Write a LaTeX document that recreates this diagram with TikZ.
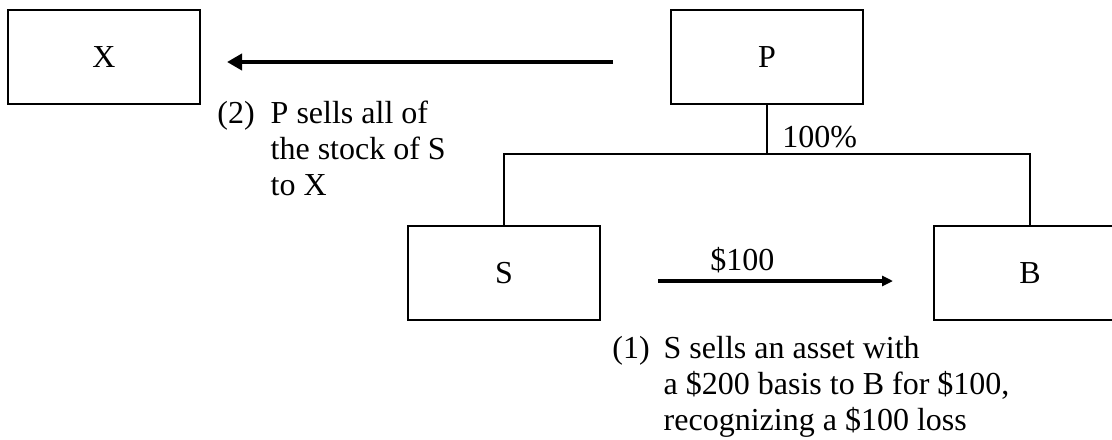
\documentclass[tikz,border=0pt]{standalone}
\usepackage{fontspec}
\setmainfont{Liberation Serif}
\usetikzlibrary{arrows.meta}

\begin{document}
\begin{tikzpicture}[
		x=0.5pt, y=-0.5pt,
		font=\fontsize{16}{18.2}\selectfont,
		box/.style={draw,line width=0.7pt,minimum width=96pt,minimum height=47pt,inner sep=0pt},
		note/.style={inner sep=0pt,anchor=base west},
		sellarrow/.style={line width=2pt,-{Triangle[length=7.5pt,width=8pt]}},
		cash/.style={line width=1.7pt,-{Triangle[length=5.5pt,width=5pt]}},
		level distance=108pt,
		level 1/.style={sibling distance=263pt},
		every child node/.style={box},
		edge from parent/.style={draw,line width=1pt},
		edge from parent path={(\tikzparentnode.south) -- ++(0,49) -| (\tikzchildnode.north)}
		]
		\path[use as bounding box,clip] (0,0) rectangle (1112,439);
		
		\node[box] (X) at (104,57) {X};
		\node[box] (P) at (767,57) {P}
		child {node (S) {S}}
		child {node (B) {B}}
		;
		
		\node[note] (own) at (782,147) {100\%};
		
		% sale of the stock
		\coordinate (sellstart) at (613,62);
		\coordinate (sellend) at (227,62);
		\draw[sellarrow] (sellstart) -- (sellend);
		\node[note] (step2) at (217,123) {\begin{tabular}[t]{@{}l@{\hspace{8pt}}l@{}}
				(2) & P sells all of\\
				& the stock of S\\
				& to X
		\end{tabular}};
		
		% sale of the asset
		\coordinate (paystart) at (658,281);
		\coordinate (payend) at (893,281);
		\draw[cash] (paystart) -- (payend);
		\node[note] (price) at (710,270) {\$100};
		\node[note] (step1) at (612,358) {\begin{tabular}[t]{@{}l@{\hspace{7pt}}l@{}}
				(1) & S sells an asset with\\
				& a \$200 basis to B for \$100,\\
				& recognizing a \$100 loss
		\end{tabular}};
	\end{tikzpicture}
\end{document}
